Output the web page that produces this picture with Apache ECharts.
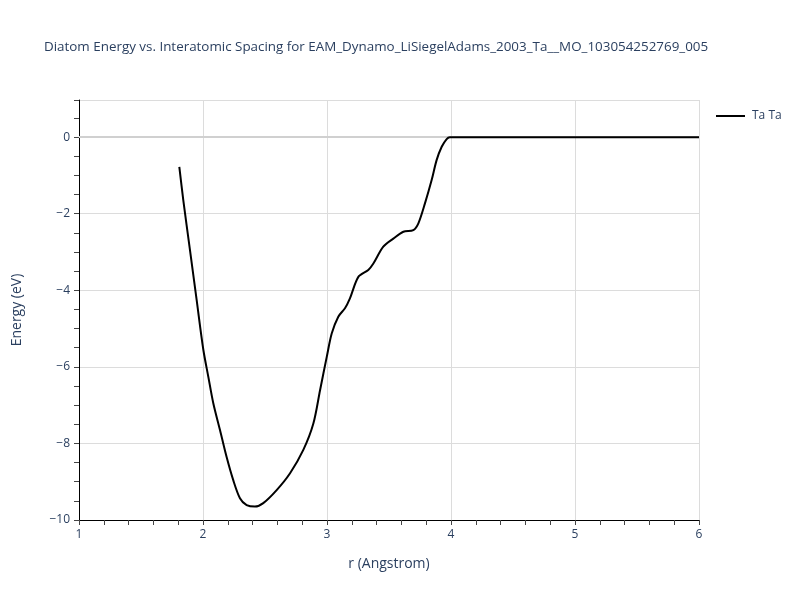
<!DOCTYPE html>
<html>
<head>
<meta charset="utf-8">
<script src="https://cdn.jsdelivr.net/npm/echarts@6/dist/echarts.min.js"></script>
<style>html,body{margin:0;padding:0;background:#fff}#c{width:800px;height:600px}</style>
</head>
<body>
<div id="c"></div>
<script>
const titleText = "Diatom Energy vs. Interatomic Spacing for EAM_Dynamo_LiSiegelAdams_2003_Ta__MO_103054252769_005";
const seriesName = "Ta Ta";
const rValues = [1.809, 1.841, 1.895, 1.949, 2.003, 2.043, 2.083, 2.137, 2.19, 2.244, 2.298, 2.352, 2.419, 2.486, 2.594, 2.702, 2.809, 2.89, 2.944, 2.998, 3.038, 3.091, 3.145, 3.185, 3.253, 3.333, 3.374, 3.454, 3.535, 3.616, 3.696, 3.737, 3.79, 3.844, 3.884, 3.925, 3.965, 3.99, 4.5, 5.0, 5.5, 6.0];
const energyValues = [-0.775, -1.645, -2.95, -4.26, -5.56, -6.26, -6.95, -7.65, -8.35, -8.96, -9.43, -9.61, -9.65, -9.56, -9.22, -8.78, -8.17, -7.48, -6.61, -5.74, -5.13, -4.69, -4.47, -4.21, -3.65, -3.47, -3.30, -2.86, -2.65, -2.47, -2.43, -2.25, -1.73, -1.12, -0.60, -0.25, -0.05, 0, 0, 0, 0, 0];
const xTitle = "r (Angstrom)";
const yTitle = "Energy (eV)";

const data = rValues.map((r, i) => [r, energyValues[i]]);
const font = "'Open Sans', 'Noto Sans', sans-serif";
const txt = '#2a3f5f';
const chart = echarts.init(document.getElementById('c'));
chart.setOption({
  animation: false,
  backgroundColor: '#fff',
  title: {
    text: titleText, left: 39, top: 36,
    textStyle: { fontFamily: font, fontSize: 13.4, fontWeight: 'normal', color: txt }
  },
  legend: {
    left: 711, top: 105, orient: 'vertical', itemWidth: 29, itemHeight: 2, itemGap: 6,
    icon: 'rect',
    textStyle: { fontFamily: font, fontSize: 12, color: txt, padding: [0, 0, 0, 2] },
    data: [{ name: seriesName, itemStyle: { color: '#000' } }]
  },
  grid: { left: 79, right: 101, top: 100, bottom: 80 },
  xAxis: {
    type: 'value', min: 1, max: 6, interval: 1,
    name: xTitle, nameLocation: 'middle', nameGap: 37,
    nameTextStyle: { fontFamily: font, fontSize: 14, color: txt },
    axisLine: { show: true, onZero: false, lineStyle: { color: '#000', width: 1 } },
    axisTick: { show: true, length: 5, lineStyle: { color: '#444' } },
    minorTick: { show: true, splitNumber: 5, length: 5, lineStyle: { color: '#444' } },
    axisLabel: { fontFamily: font, fontSize: 12, color: txt, margin: 9 },
    splitLine: { show: true, lineStyle: { color: '#dcdcdc', width: 1 } }
  },
  yAxis: {
    type: 'value', min: -10, max: 0.97, interval: 2,
    name: yTitle, nameLocation: 'middle', nameGap: 55,
    nameTextStyle: { fontFamily: font, fontSize: 14, color: txt },
    axisLine: { show: true, onZero: false, lineStyle: { color: '#000', width: 1 } },
    axisTick: { show: true, length: 5, lineStyle: { color: '#444' } },
    minorTick: { show: true, splitNumber: 4, length: 5, lineStyle: { color: '#444' } },
    axisLabel: { fontFamily: font, fontSize: 12, color: txt, margin: 9, showMaxLabel: false,
      formatter: v => (v > 0.5 ? '' : (v < 0 ? '\u2212' + Math.abs(v) : String(v))) },
    splitLine: { show: true, lineStyle: { color: '#dcdcdc', width: 1 } }
  },
  series: [{
    name: seriesName, type: 'line', data: data, smooth: 0.3, showSymbol: false,
    lineStyle: { color: '#000', width: 2 }, itemStyle: { color: '#000' },
    markLine: {
      silent: true, symbol: 'none', label: { show: false },
      lineStyle: { color: '#d0d0d0', width: 2, type: 'solid' },
      data: [{ yAxis: 0 }], z: 1
    },
    z: 3
  }]
});
</script>
</body>
</html>
